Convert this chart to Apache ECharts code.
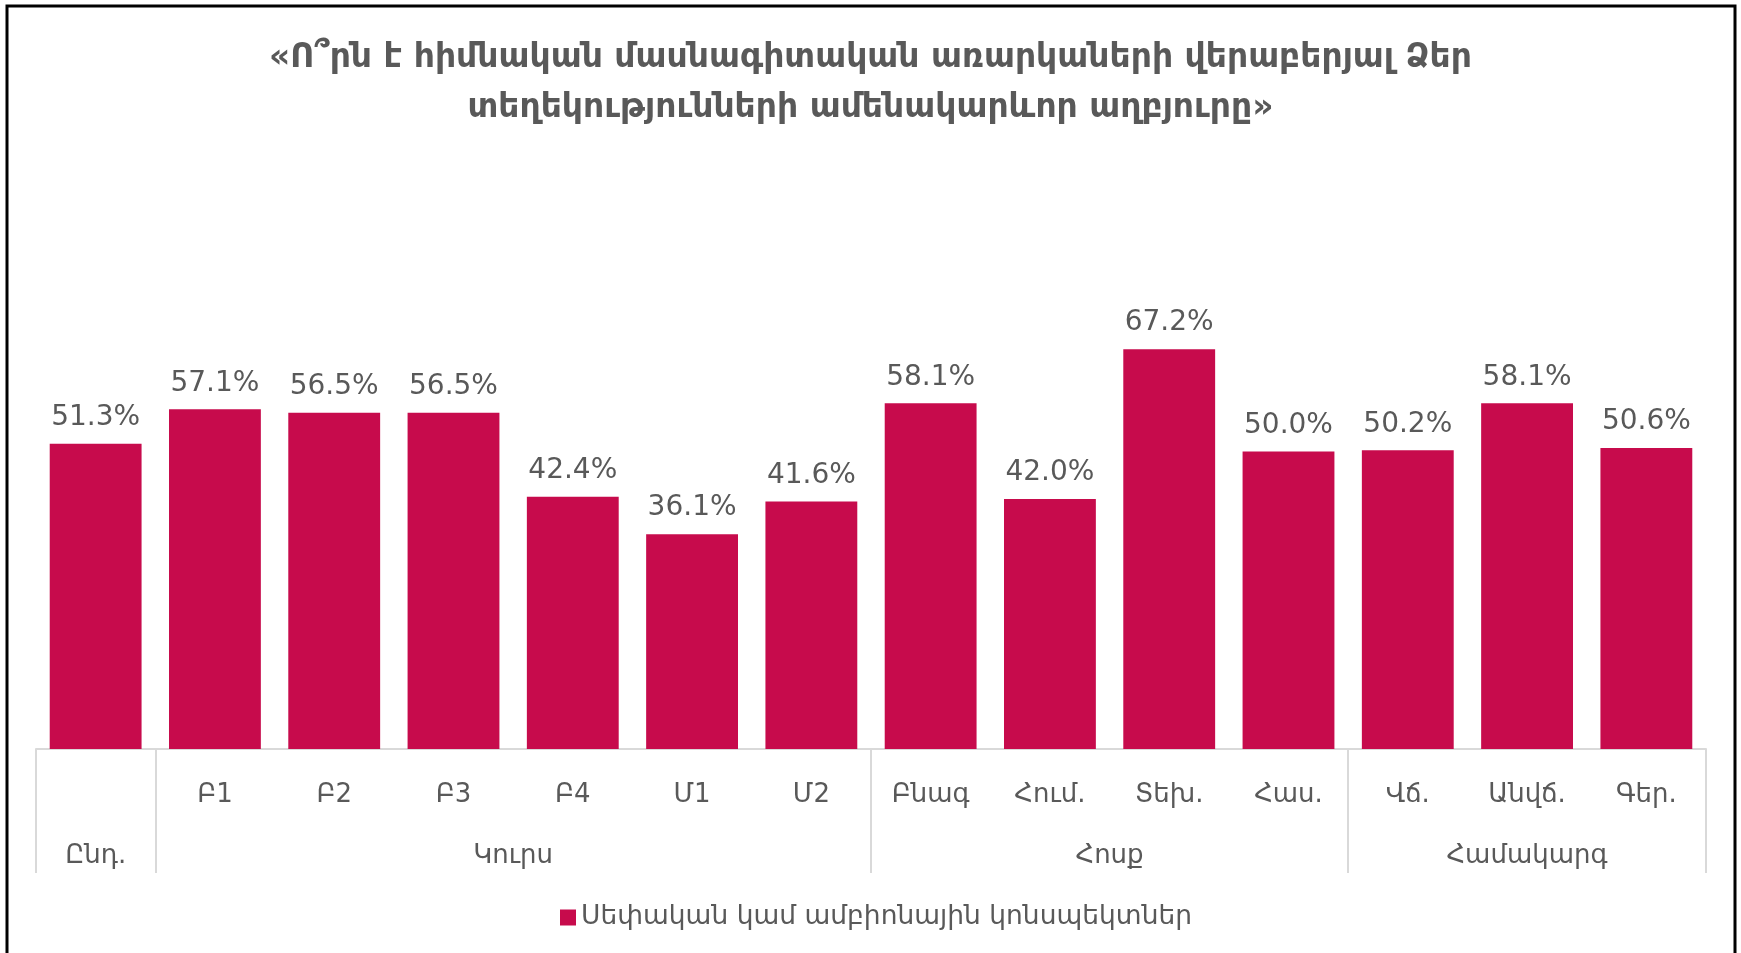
<!DOCTYPE html>
<html>
<head>
<meta charset="UTF-8">
<title>Տեղեկությունների աղբյուրը</title>
<script src="https://cdn.jsdelivr.net/npm/echarts@6/dist/echarts.min.js"></script>
<style>
    html, body { margin: 0; padding: 0; background: #fff; }
    #main { width: 1741px; height: 953px; }
</style>
</head>
<body>
<div id="main"></div>
<script>
    // ենթախմբերի պիտակներ (առաջին շարք) և արժեքներ
    var subLabels = ['', 'Բ1', 'Բ2', 'Բ3', 'Բ4', 'Մ1', 'Մ2', 'Բնագ', 'Հում.', 'Տեխ.', 'Հաս.', 'Վճ.', 'Անվճ.', 'Գեր.'];
    var values = [51.3, 57.1, 56.5, 56.5, 42.4, 36.1, 41.6, 58.1, 42.0, 67.2, 50.0, 50.2, 58.1, 50.6];

    // խմբեր (երկրորդ շարք)
    var groupLabels = ['Ընդ.', 'Կուրս', 'Հոսք', 'Համակարգ'];
    var groupStart = [0, 1, 7, 11];
    var groupEnd = [1, 7, 11, 14];

    var seriesName = 'Սեփական կամ ամբիոնային կոնսպեկտներ';
    var titleText = '«Ո՞րն է հիմնական մասնագիտական առարկաների վերաբերյալ Ձեր\nտեղեկությունների ամենակարևոր աղբյուրը»';

    var FONT = '"DejaVu Sans", sans-serif';
    var GREY = '#595959';

    var groupMid = {};
    var midValues = [];
    groupLabels.forEach(function (g, i) {
        var m = (groupStart[i] + groupEnd[i]) / 2;
        groupMid[m] = g;
        midValues.push(m);
    });
    var bounds = groupStart.concat([subLabels.length]);

    var myChart = echarts.init(document.getElementById('main'));
    var option = {
        animation: false,
        backgroundColor: '#fff',
        title: {
            text: titleText,
            left: 'center',
            top: 28,
            textStyle: {
                fontFamily: FONT,
                fontSize: 33,
                fontWeight: 'bold',
                color: GREY,
                lineHeight: 50
            }
        },
        legend: {
            top: 899,
            left: 555,
            icon: 'rect',
            itemWidth: 16,
            itemHeight: 16,
            textStyle: { fontFamily: FONT, fontSize: 26.5, color: GREY }
        },
        grid: { left: 36, right: 35, top: 273, bottom: 204 },
        xAxis: [
            {
                type: 'category',
                data: subLabels,
                axisLine: { lineStyle: { color: '#d9d9d9', width: 2 } },
                axisTick: { show: false },
                axisLabel: {
                    interval: 0,
                    margin: 33,
                    fontFamily: FONT,
                    fontSize: 26,
                    color: GREY
                }
            },
            {
                type: 'value',
                min: 0,
                max: subLabels.length,
                position: 'bottom',
                axisLine: { show: false },
                splitLine: { show: false },
                axisTick: {
                    show: true,
                    customValues: bounds,
                    length: 124,
                    lineStyle: { color: '#d9d9d9', width: 2 }
                },
                axisLabel: {
                    customValues: midValues,
                    margin: 94,
                    fontFamily: FONT,
                    fontSize: 26,
                    color: GREY,
                    formatter: function (v) { return groupMid[v] || ''; }
                }
            }
        ],
        yAxis: { type: 'value', min: 0, max: 80, show: false },
        series: [
            {
                name: seriesName,
                type: 'bar',
                data: values,
                barWidth: '77%',
                itemStyle: { color: '#c70b4c' },
                label: {
                    show: true,
                    position: 'top',
                    distance: 12,
                    fontFamily: FONT,
                    fontSize: 28,
                    color: GREY,
                    formatter: function (p) { return p.value.toFixed(1) + '%'; }
                }
            }
        ],
        graphic: [
            {
                type: 'rect',
                shape: { x: 7, y: 6, width: 1728, height: 970 },
                style: { fill: null, stroke: '#000', lineWidth: 3 },
                silent: true
            }
        ]
    };
    myChart.setOption(option);
</script>
</body>
</html>
